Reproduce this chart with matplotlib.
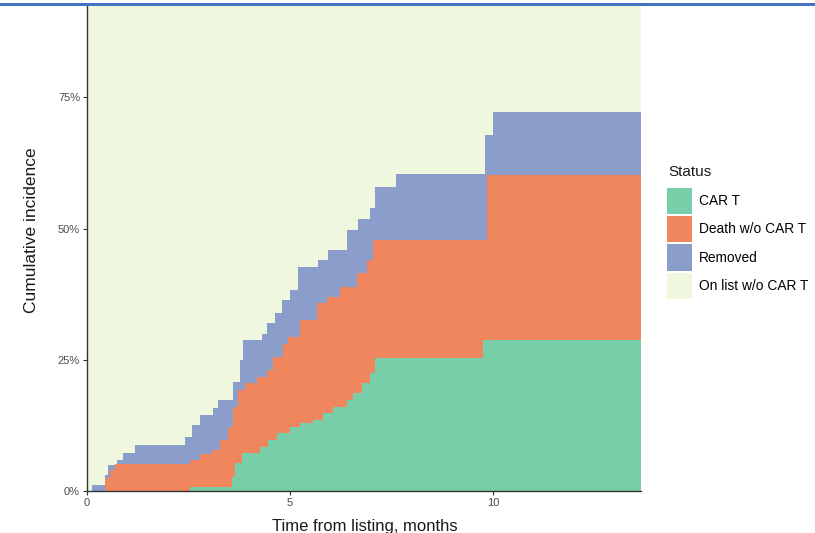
import numpy as np
import matplotlib
matplotlib.use("Agg")
import matplotlib.pyplot as plt
from matplotlib.patches import Patch, Rectangle
from matplotlib.ticker import PercentFormatter

plt.rcParams['font.family'] = ['Liberation Sans', 'DejaVu Sans']

# upper edge of each stacked band (cumulative incidence, %), step functions
t_cart = [2.54, 3.57, 3.65, 3.82, 4.26, 4.46, 4.68, 5.00, 5.25, 5.57, 5.81,
          6.06, 6.40, 6.55, 6.77, 6.97, 7.09, 9.75]
top_cart = [0.8, 2.7, 5.3, 7.2, 8.4, 9.7, 11.0, 12.2, 13.0, 13.5, 14.9,
            16.0, 17.3, 18.7, 20.6, 22.5, 25.3, 28.7]

t_death = [0.44, 0.57, 0.69, 2.54, 2.78, 3.08, 3.28, 3.47, 3.60, 3.72, 3.89,
           4.19, 4.43, 4.58, 4.83, 4.95, 5.25, 5.67, 5.91, 6.23, 6.65, 6.90,
           7.04, 9.85]
top_death = [2.4, 4.0, 5.2, 6.0, 7.0, 7.8, 9.7, 12.2, 16.0, 19.2, 20.6,
             21.7, 23.0, 25.5, 28.0, 29.3, 32.6, 35.8, 37.0, 38.9, 41.5, 44.0,
             47.8, 60.2]

t_removed = [0.12, 0.44, 0.52, 0.74, 0.89, 1.18, 2.41, 2.59, 2.78, 3.10, 3.23,
             3.60, 3.77, 3.84, 4.31, 4.43, 4.63, 4.80, 5.00, 5.20, 5.69, 5.94,
             6.40, 6.67, 6.97, 7.09, 7.61, 9.80, 10.00]
top_removed = [1.1, 3.0, 5.0, 5.9, 7.2, 8.8, 10.3, 12.6, 14.5, 15.8, 17.3,
               20.8, 25.0, 28.8, 30.0, 32.0, 34.0, 36.4, 38.3, 42.7, 44.0, 46.0,
               49.8, 51.8, 53.9, 57.9, 60.4, 67.8, 72.3]

labels = ['CAR T', 'Death w/o CAR T', 'Removed', 'On list w/o CAR T']
colors = ['#77CEA8', '#EF865D', '#8B9ECB', '#F0F7DF']

x_max = 13.65
y_max = 92.4


def step_eval(times, vals, grid):
    times = np.asarray(times)
    vals = np.concatenate([[0.0], vals])
    return vals[np.searchsorted(times, grid, side='right')]


grid = np.unique(np.concatenate([[0.0, x_max], t_cart, t_death, t_removed]))
y1 = step_eval(t_cart, top_cart, grid)
y2 = np.maximum(step_eval(t_death, top_death, grid), y1)
y3 = np.maximum(step_eval(t_removed, top_removed, grid), y2)
y4 = np.full_like(grid, 100.0)

fig = plt.figure(figsize=(8.15, 5.33), dpi=100)
ax = fig.add_axes([87 / 815, 42 / 533, 554 / 815, 485 / 533])

bands = [(np.zeros_like(grid), y1), (y1, y2), (y2, y3), (y3, y4)]
for (lo, hi), c in zip(bands, colors):
    ax.fill_between(grid, lo, hi, step='post', color=c, linewidth=0)

ax.set_xlim(0, x_max)
ax.set_ylim(0, y_max)
ax.set_xticks([0, 5, 10])
ax.set_yticks([0, 25, 50, 75])
ax.yaxis.set_major_formatter(PercentFormatter(decimals=0))
ax.tick_params(length=3, width=0.8, color='#333333', labelsize=8,
               labelcolor='#4D4D4D', pad=2)
for side in ['top', 'right']:
    ax.spines[side].set_visible(False)
for side in ['left', 'bottom']:
    ax.spines[side].set_color('#333333')
    ax.spines[side].set_linewidth(1.0)

fig.text(365 / 815, (533 - 527) / 533, 'Time from listing, months',
         ha='center', va='center', fontsize=12, color='#1A1A1A')
fig.text(32 / 815, (533 - 230) / 533, 'Cumulative incidence', rotation=90,
         ha='center', va='center', fontsize=12.5, color='#1A1A1A')

# legend
fig.text(668 / 815, (533 - 172) / 533, 'Status', ha='left', va='center',
         fontsize=11, color='#1A1A1A')
handles = [Patch(facecolor=c, edgecolor='none') for c in colors]
leg = fig.legend(handles, labels, loc='upper left',
                 bbox_to_anchor=(667 / 815, (533 - 188) / 533),
                 frameon=False, fontsize=9.9,
                 handlelength=1.8, handleheight=2.55, labelspacing=0.15,
                 handletextpad=0.55, borderpad=0, borderaxespad=0)

# thin blue border line along the top of the image
fig.add_artist(Rectangle((0, (533 - 6) / 533), 1, 3 / 533,
                         transform=fig.transFigure, color='#4472C4',
                         linewidth=0))

fig.savefig('out.png', dpi=100)
